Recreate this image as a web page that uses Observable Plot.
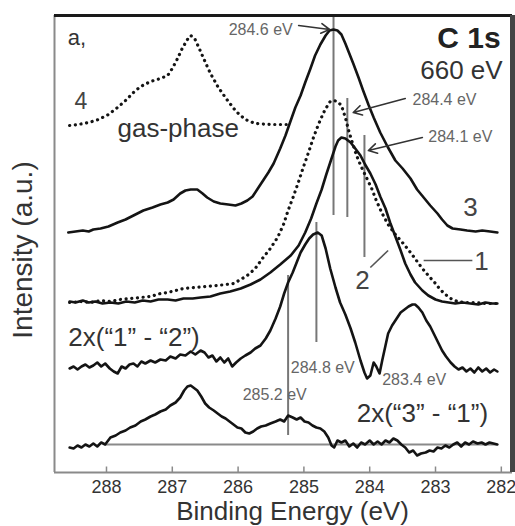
<!DOCTYPE html>
<html><head><meta charset="utf-8">
<script src="https://cdn.jsdelivr.net/npm/d3@7"></script>
<script src="https://cdn.jsdelivr.net/npm/@observablehq/plot@0.6"></script>
<style>html,body{margin:0;padding:0;background:#fff} svg{display:block}</style>
</head><body><div id="chart"></div>
<script>
// ---- data (binding energy in eV, intensity in arbitrary units, curves offset) ----
const xTicks = [288, 287, 286, 285, 284, 283, 282];

// 4: gas-phase (dotted)
const gasE = [288.56,288.43,288.27,288.12,287.97,287.83,287.71,287.59,287.48,287.33,287.18,287.07,287.00,286.92,286.85,286.77,286.72,286.66,286.59,286.51,286.42,286.30,286.16,286.03,285.89,285.74,285.51,285.25];
const gasI = [69.4,69.6,70.0,70.6,71.6,73.0,74.4,76.0,77.2,78.2,78.8,79.4,80.8,82.8,84.8,86.6,87.4,86.8,84.8,82.4,79.8,77.0,74.4,72.2,70.6,69.8,69.6,69.6];

// 3 (solid, top)
const c3E = [288.58,288.47,288.36,288.27,288.20,288.09,287.97,287.83,287.71,287.59,287.44,287.30,287.18,287.07,286.98,286.88,286.80,286.72,286.62,286.54,286.47,286.37,286.27,286.15,286.04,285.95,285.86,285.78,285.71,285.62,285.54,285.46,285.36,285.28,285.20,285.13,285.05,284.98,284.90,284.83,284.75,284.67,284.61,284.55,284.49,284.43,284.37,284.31,284.25,284.17,284.10,284.02,283.94,283.84,283.73,283.61,283.50,283.38,283.28,283.18,283.08,282.97,282.90,282.82,282.74,282.62,282.52,282.39,282.29,282.17,282.06];
const c3I = [48.0,48.2,48.4,48.2,48.6,48.8,49.2,50.0,50.6,51.4,52.4,53.0,53.6,54.0,54.6,55.8,56.4,56.6,56.6,55.8,55.0,54.2,53.8,53.6,53.4,53.8,54.4,55.2,56.6,58.4,60.0,61.8,64.8,67.4,70.4,73.0,75.4,78.0,80.8,83.4,85.6,87.4,88.4,88.6,88.4,87.6,85.8,83.8,81.8,79.0,76.4,73.6,71.0,68.0,65.2,62.4,60.8,58.8,56.6,55.0,53.4,51.8,50.6,49.4,48.8,48.6,48.4,48.2,48.4,48.2,48.0];

// 1 (dotted)
const c1E = [288.56,288.39,288.24,288.09,287.94,287.79,287.64,287.48,287.33,287.18,287.07,286.95,286.83,286.65,286.50,286.31,286.19,286.07,285.96,285.84,285.74,285.63,285.51,285.40,285.31,285.24,285.16,285.08,285.01,284.93,284.86,284.78,284.70,284.64,284.60,284.55,284.49,284.43,284.37,284.32,284.26,284.20,284.13,284.05,283.97,283.90,283.81,283.72,283.61,283.49,283.38,283.29,283.20,283.11,283.00,282.93,282.85,282.77,282.67,282.55,282.39,282.24,282.06];
const c1I = [34.0,34.2,34.0,34.4,34.2,34.6,34.8,35.0,35.2,35.8,36.0,36.4,36.8,37.0,37.2,37.4,37.6,37.8,38.6,39.6,40.8,42.8,44.8,47.0,49.6,52.4,55.2,58.2,61.0,64.0,66.8,69.6,72.0,73.4,74.2,74.4,74.2,73.4,71.0,68.4,65.8,63.4,61.2,59.0,56.8,54.4,51.8,49.6,47.6,45.8,44.0,42.4,40.8,39.4,37.8,36.6,35.6,34.8,34.2,34.0,34.0,33.8,33.8];

// 2 (solid, middle)
const c2E = [288.56,288.47,288.36,288.27,288.17,288.06,287.94,287.82,287.70,287.57,287.45,287.33,287.21,287.07,286.95,286.83,286.69,286.57,286.42,286.27,286.12,285.96,285.81,285.66,285.51,285.36,285.20,285.08,284.98,284.89,284.81,284.73,284.66,284.58,284.52,284.48,284.43,284.37,284.29,284.22,284.14,284.07,283.99,283.91,283.84,283.76,283.69,283.61,283.53,283.46,283.38,283.31,283.20,283.11,283.00,282.90,282.80,282.70,282.59,282.47,282.35,282.24,282.14,282.06];
const c2I = [34.2,34.0,34.4,34.0,34.2,33.8,34.0,33.8,34.2,34.0,34.4,34.2,34.6,34.6,34.4,34.8,34.8,35.0,35.2,35.8,36.2,36.8,37.6,38.6,40.0,41.6,43.4,45.4,48.0,50.8,53.8,56.6,59.6,62.8,65.2,66.4,67.0,66.8,66.0,64.8,63.4,61.6,59.8,57.6,55.2,52.8,50.0,47.2,44.4,41.8,39.6,38.0,36.4,35.4,34.6,34.2,34.0,33.8,34.0,33.8,33.6,34.0,33.8,33.8];

// 2x("1" - "2")
const d12E = [288.56,288.50,288.44,288.38,288.32,288.26,288.20,288.14,288.08,288.02,287.95,287.89,287.83,287.77,287.71,287.65,287.59,287.53,287.47,287.41,287.33,287.26,287.18,287.10,287.03,286.95,286.88,286.80,286.72,286.65,286.57,286.51,286.45,286.39,286.33,286.27,286.21,286.15,286.09,286.03,285.96,285.89,285.81,285.74,285.66,285.58,285.51,285.43,285.36,285.30,285.24,285.17,285.11,285.05,284.98,284.92,284.86,284.79,284.73,284.67,284.60,284.52,284.45,284.37,284.29,284.22,284.14,284.08,284.04,283.99,283.94,283.90,283.85,283.81,283.76,283.72,283.66,283.59,283.53,283.47,283.41,283.35,283.31,283.26,283.20,283.14,283.08,283.02,282.96,282.90,282.84,282.77,282.71,282.65,282.59,282.53,282.47,282.41,282.35,282.29,282.23,282.17,282.11,282.06];
const d12I = [20.8,21.2,20.6,21.2,21.6,21.0,21.4,22.0,21.2,21.8,20.8,20.2,19.8,21.2,20.8,21.6,21.8,21.2,22.2,21.8,22.4,22.0,22.6,22.4,23.2,22.8,23.6,23.4,24.2,23.6,24.4,24.0,23.0,23.4,22.2,23.0,22.0,22.8,21.2,22.0,22.8,23.4,24.0,24.8,25.4,26.8,28.4,30.8,33.2,35.8,38.0,40.0,42.0,44.0,45.6,46.8,47.6,48.0,47.4,44.8,40.8,37.0,34.0,31.6,28.8,26.0,22.4,20.0,18.8,19.4,22.0,21.2,19.8,22.4,25.4,27.8,29.4,30.8,32.0,32.6,33.2,33.6,33.6,33.0,32.0,30.4,29.2,27.6,26.0,24.4,23.2,22.0,21.2,20.6,21.0,20.2,20.8,20.0,21.0,20.2,20.8,20.0,20.6,20.2];

// 2x("3" - "1")
const d31E = [288.56,288.50,288.44,288.38,288.32,288.26,288.20,288.14,288.08,288.02,287.94,287.86,287.79,287.71,287.64,287.56,287.48,287.41,287.33,287.26,287.18,287.10,287.03,286.95,286.88,286.82,286.77,286.72,286.68,286.62,286.56,286.50,286.44,286.37,286.31,286.25,286.19,286.13,286.07,286.01,285.95,285.89,285.83,285.77,285.71,285.65,285.58,285.51,285.43,285.36,285.30,285.24,285.17,285.11,285.05,284.99,284.93,284.87,284.81,284.75,284.69,284.63,284.58,284.54,284.49,284.43,284.37,284.31,284.25,284.19,284.13,284.07,284.00,283.94,283.88,283.82,283.76,283.70,283.64,283.58,283.52,283.46,283.40,283.34,283.28,283.22,283.15,283.09,283.03,282.97,282.91,282.85,282.79,282.73,282.67,282.61,282.55,282.49,282.43,282.36,282.30,282.24,282.18,282.12,282.06];
const d31I = [5.0,4.8,5.4,5.0,5.6,5.2,5.8,5.2,6.0,5.6,7.0,7.4,8.0,8.4,9.0,9.4,10.2,10.6,11.2,11.6,12.2,12.6,13.4,14.0,15.0,16.4,17.2,17.4,17.0,16.4,15.2,13.8,13.0,12.4,11.8,11.2,10.8,10.2,9.6,9.0,8.8,8.0,7.8,8.2,8.8,9.2,9.4,9.8,10.2,10.6,10.2,11.4,11.0,10.6,11.0,10.2,10.0,9.4,9.0,8.8,8.2,7.0,5.4,5.0,6.4,6.0,6.4,5.2,5.8,5.0,6.0,5.6,6.4,5.6,6.2,5.6,6.4,6.0,6.8,6.4,5.6,5.0,4.0,4.4,3.4,3.8,4.0,4.4,4.2,5.0,4.8,5.4,5.0,5.6,6.0,5.2,6.0,5.6,6.2,5.8,6.0,5.6,6.0,5.8,5.6];

// zero line of the bottom difference curve
const zeroLevel = [5.6];
const zeroFrom = 288.02, zeroTo = 282.06;

// peak markers (eV) and their vertical extents
const markerE  = [284.55, 284.34, 284.08, 284.81, 285.24];
const markerLo = [51.4, 51.0, 43.0, 26.0, 7.4];
const markerHi = [91.0, 74.8, 67.4, 50.0, 39.4];

// arrows from peak labels to markers
const arrowFromE = [285.08, 283.46, 283.20];
const arrowFromI = [89.4, 74.8, 67.0];
const arrowToE   = [284.61, 284.25, 284.02];
const arrowToI   = [88.6, 72.0, 64.4];

// leader lines for curve labels "1" and "2"
const leaderFromE = [283.18, 283.72];
const leaderFromI = [42.4, 44.4];
const leaderToE   = [282.44, 283.99];
const leaderToI   = [42.4, 41.0];

// text labels
const peakLabels = ["284.6 eV", "284.4 eV", "284.1 eV", "284.8 eV", "285.2 eV", "283.4 eV"];
const peakLabelE = [285.17, 283.35, 283.11, 285.20, 285.93, 283.81];
const peakLabelI = [88.6, 74.6, 67.2, 21.0, 15.6, 18.6];
const peakLabelAnchor = ["end", "start", "start", "start", "start", "start"];

const curveNames = ["1", "2", "3"];
const curveNameE = [282.30, 284.11, 282.47];
const curveNameI = [42.2, 38.4, 53.0];

// ---- chart ----
const pts = (E, I) => E.map((e, i) => ({e, v: I[i]}));
const X0 = 288.79, X1 = 281.83, Y0 = 0, Y1 = 91.4;
const font = "'Liberation Sans', Arial, Helvetica, sans-serif";

const solid = {x: "e", y: "v", stroke: "#141414", strokeWidth: 2.6, strokeLinejoin: "round", strokeLinecap: "round"};
const dotted = {x: "e", y: "v", stroke: "#141414", strokeWidth: 3.2, strokeDasharray: "0.1 5.6", strokeLinecap: "round"};

const single = (t, e, v, opts) => Plot.text([t], {x: () => e, y: () => v, text: d => d, ...opts});
const peakIdx = (anchor) => peakLabels.map((t, i) => i).filter(i => peakLabelAnchor[i] === anchor);
const peakText = (anchor) => Plot.text(peakIdx(anchor), {
  x: i => peakLabelE[i], y: i => peakLabelI[i], text: i => peakLabels[i],
  textAnchor: anchor, fontSize: 16, fill: "#666"
});

const chart = Plot.plot({
  width: 515, height: 526,
  marginLeft: 54, marginRight: 3, marginTop: 15, marginBottom: 54,
  style: {fontFamily: font, background: "#fff", color: "#333", overflow: "visible"},
  x: {domain: [X0, X1], axis: null},
  y: {domain: [Y0, Y1], axis: null},
  marks: [
    // frame
    Plot.ruleY([Y0], {stroke: "#8a8a8a", strokeWidth: 2}),
    Plot.ruleX([X0], {stroke: "#8a8a8a", strokeWidth: 2}),
    // ticks (inward) + labels
    Plot.ruleX(xTicks, {x: d => d, y1: 0, y2: 1.1, stroke: "#8a8a8a", strokeWidth: 1.5}),
    Plot.axisX({ticks: xTicks, tickSize: 0, tickPadding: 8, fontSize: 18, tickFormat: d => String(d), label: null, fill: "#333"}),
    // axis titles
    Plot.text(["Binding Energy (eV)"], {frameAnchor: "bottom", lineAnchor: "middle", textAnchor: "middle", dx: 9, dy: 39, fontSize: 26, fill: "#333"}),
    Plot.text(["Intensity (a.u.)"], {frameAnchor: "left", lineAnchor: "middle", textAnchor: "middle", rotate: -90, dx: -31, dy: 6, fontSize: 28, fill: "#333"}),
    // zero line and markers
    Plot.ruleY(zeroLevel, {x1: zeroFrom, x2: zeroTo, stroke: "#8a8a8a", strokeWidth: 2}),
    Plot.ruleX(markerE, {x: d => d, y1: (d, i) => markerLo[i], y2: (d, i) => markerHi[i], stroke: "#777", strokeWidth: 2}),
    // curves
    Plot.line(pts(gasE, gasI), dotted),
    Plot.line(pts(c1E, c1I), dotted),
    Plot.line(pts(c3E, c3I), solid),
    Plot.line(pts(c2E, c2I), solid),
    Plot.line(pts(d12E, d12I), solid),
    Plot.line(pts(d31E, d31I), solid),
    // arrows and leaders
    Plot.arrow(arrowFromE, {x1: d => d, y1: (d, i) => arrowFromI[i], x2: (d, i) => arrowToE[i], y2: (d, i) => arrowToI[i], stroke: "#333", strokeWidth: 1.6, headLength: 9}),
    Plot.link(leaderFromE, {x1: d => d, y1: (d, i) => leaderFromI[i], x2: (d, i) => leaderToE[i], y2: (d, i) => leaderToI[i], stroke: "#555", strokeWidth: 1.6}),
    // peak labels
    peakText("start"),
    peakText("end"),
    // curve labels
    Plot.text(curveNames, {x: (d, i) => curveNameE[i], y: (d, i) => curveNameI[i], text: d => d, fontSize: 26, fill: "#444"}),
    single("4", 288.39, 74.2, {fontSize: 23, fill: "#444"}),
    single("a,", 288.59, 87.0, {fontSize: 22, fill: "#333", textAnchor: "start"}),
    single("gas-phase", 286.91, 68.8, {fontSize: 26, fill: "#333"}),
    single("C 1s", 282.01, 86.8, {fontSize: 30, fontWeight: "bold", fill: "#222", textAnchor: "end"}),
    single("660 eV", 281.98, 80.4, {fontSize: 26, fill: "#333", textAnchor: "end"}),
    single("2x(\u201c1\u201d - \u201c2\u201d)", 288.58, 27.0, {fontSize: 26, fill: "#333", textAnchor: "start"}),
    single("2x(\u201c3\u201d - \u201c1\u201d)", 282.20, 11.8, {fontSize: 26, fill: "#333", textAnchor: "end"}),
    // heavy top and right borders
    Plot.ruleY([Y1], {stroke: "#1a1a1a", strokeWidth: 3}),
    Plot.ruleX([X1], {stroke: "#444", strokeWidth: 5})
  ]
});
document.getElementById("chart").appendChild(chart);
</script>
</body></html>
